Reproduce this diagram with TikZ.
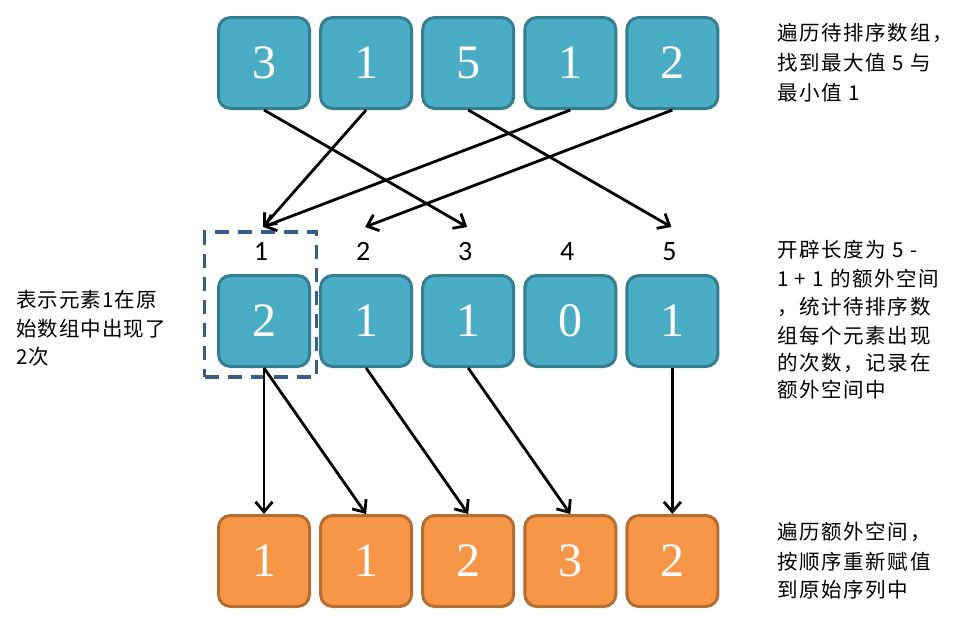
\documentclass[tikz,border=0pt]{standalone}
\usepackage{fontspec}
\setmainfont{Liberation Serif}
\newfontfamily\cjk[LetterSpace=8]{Noto Sans CJK SC}
\newfontfamily\cjkleft[LetterSpace=5]{Noto Sans CJK SC}
\newfontfamily\lab{Carlito}
\usetikzlibrary{arrows.meta}
\definecolor{tealfill}{HTML}{4BACC6}
\definecolor{tealline}{HTML}{357D91}
\definecolor{orgfill}{HTML}{F79646}
\definecolor{orgline}{HTML}{B66D31}
\definecolor{dashblue}{HTML}{385D8A}
\begin{document}
\begin{tikzpicture}[x=1pt,y=-1pt,
  cell/.style={rounded corners=12pt, minimum width=91pt, minimum height=91pt,
    line width=3pt, inner sep=0pt, text=white,
    font=\fontsize{48}{48}\selectfont},
  tcell/.style={cell, fill=tealfill, draw=tealline},
  ocell/.style={cell, fill=orgfill, draw=orgline},
  idx/.style={inner sep=0pt, font=\lab\fontsize{28}{28}\selectfont},
  note/.style={inner sep=0pt, anchor=west, font=\cjk\fontsize{20.5}{20.5}\selectfont},
  lnote/.style={note, font=\cjkleft\fontsize{20.5}{20.5}\selectfont},
  arr/.style={line width=2.8pt, -{Straight Barb[length=10pt,width=17pt]}},
  dashbox/.style={draw=dashblue, line width=3.5pt, dash pattern=on 14pt off 9pt}
]
\useasboundingbox (0,0) rectangle (962,627);
% top row
\foreach \v [count=\i] in {3,1,5,1,2}
  \node[tcell] (t\i) at ({264+102.1*(\i-1)},63) {\v};
% middle row
\foreach \v [count=\i] in {2,1,1,0,1}
  \node[tcell] (m\i) at ({264+102.1*(\i-1)},321) {\v};
% bottom row
\foreach \v [count=\i] in {1,1,2,3,2}
  \node[ocell] (b\i) at ({264+102.1*(\i-1)},561) {\v};
% index labels
\foreach \i in {1,...,5}
  \node[idx] (i\i) at ({261+102.1*(\i-1)},251.5) {\i};
\foreach \i in {1,...,5}
  \coordinate (e\i) at ({263+102.1*(\i-1)},227);
% dashed highlight
\node[dashbox, minimum width=112pt, minimum height=145pt, inner sep=0pt] (hl) at (260.5,304.5) {};
% top arrows
\draw[arr] (t1.south) -- (e3);
\draw[arr] (t2.south) -- (e1);
\draw[arr] (t3.south) -- (e5);
\draw[arr] (t4.south) -- (e1);
\draw[arr] (t5.south) -- (e2);
% bottom arrows
\draw[arr] (m1.south) -- (b1.north);
\draw[arr] (m1.south) -- (b2.north);
\draw[arr] (m2.south) -- (b3.north);
\draw[arr] (m3.south) -- (b4.north);
\draw[arr] (m5.south) -- (b5.north);
% notes
\node[note] (n11) at (777,33) {遍历待排序数组，};
\node[note] (n12) at (777,63) {找到最大值 5 与};
\node[note] (n13) at (777,93) {最小值 1};
\node[note] (n21) at (777,250) {开辟长度为 5 -};
\node[note] (n22) at (777,278.5) {1 + 1 的额外空间};
\node[note] (n23) at (777,307) {，统计待排序数};
\node[note] (n24) at (777,336) {组每个元素出现};
\node[note] (n25) at (777,363) {的次数，记录在};
\node[note] (n26) at (777,390) {额外空间中};
\node[note] (n31) at (777,532) {遍历额外空间，};
\node[note] (n32) at (777,562) {按顺序重新赋值};
\node[note] (n33) at (777,590) {到原始序列中};
\node[lnote] (n41) at (16,300) {表示元素1在原};
\node[lnote] (n42) at (16,328.5) {始数组中出现了};
\node[lnote] (n43) at (16,357) {2次};
\end{tikzpicture}
\end{document}
